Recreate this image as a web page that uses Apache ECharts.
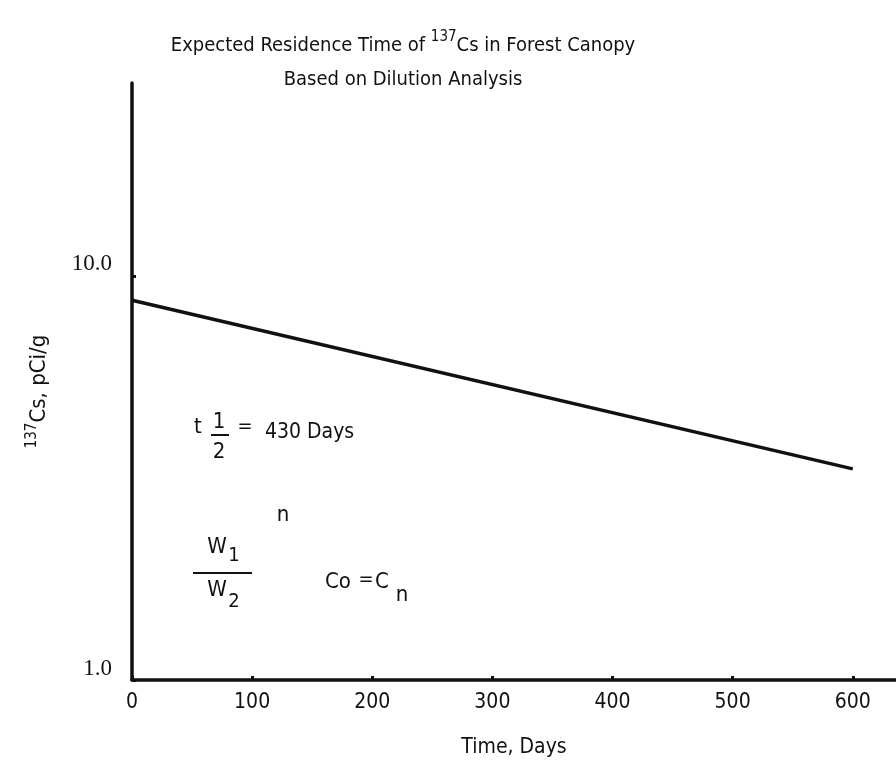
<!DOCTYPE html>
<html>
<head>
<meta charset="utf-8">
<script src="https://cdn.jsdelivr.net/npm/echarts@6/dist/echarts.min.js"></script>
<style>
html,body{margin:0;padding:0;background:#fff;}
#chart{width:896px;height:767px;}
</style>
</head>
<body>
<div id="chart"></div>
<script>
// Data
const days = [0, 600];
const cs137 = [8.7, 3.33];
const xTickValues = [0, 100, 200, 300, 400, 500, 600];
const yTickLabels = {1: '1.0', 10: '10.0'};

const SANS = '"DejaVu Sans Condensed", "Liberation Sans Narrow", sans-serif';
const SERIF = '"Liberation Serif", "DejaVu Serif", serif';

const chart = echarts.init(document.getElementById('chart'), null, {renderer: 'canvas'});

function txt(x, y, text, size, align) {
  return {type: 'text', x: x, y: y,
    style: {text: text, font: size + 'px ' + SANS, fill: '#111',
      textAlign: align || 'center', textVerticalAlign: 'middle'}};
}
function hline(x1, x2, y) {
  return {type: 'line', shape: {x1: x1, y1: y, x2: x2, y2: y},
    style: {stroke: '#111', lineWidth: 2}};
}

const option = {
  backgroundColor: '#fff',
  animation: false,
  title: {
    text: 'Expected Residence Time of {sup|137}Cs in Forest Canopy',
    subtext: 'Based on Dilution Analysis',
    left: 398, top: 25, textAlign: 'center', itemGap: 14,
    textStyle: {fontFamily: SANS, fontSize: 20, fontWeight: 'normal', color: '#111',
      rich: {sup: {fontFamily: SANS, fontSize: 15, color: '#111', padding: [0, 0, 16, 0]}}},
    subtextStyle: {fontFamily: SANS, fontSize: 20, color: '#111'}
  },
  grid: {left: 132, right: 0, top: 83, bottom: 87, containLabel: false, outerBoundsMode: 'none'},
  xAxis: {
    type: 'value', min: 0, max: 636, interval: 100,
    name: 'Time, Days', nameLocation: 'middle', nameGap: 57,
    nameTextStyle: {fontFamily: SANS, fontSize: 21, color: '#111'},
    axisLine: {lineStyle: {color: '#111', width: 3.5}},
    axisTick: {inside: true, length: 4, lineStyle: {color: '#111', width: 3}},
    splitLine: {show: false},
    axisLabel: {fontFamily: SANS, fontSize: 21, color: '#111', margin: 12, showMaxLabel: false,
      formatter: v => xTickValues.indexOf(v) >= 0 ? String(v) : ''}
  },
  yAxis: {
    type: 'log', logBase: 10, min: 1, max: 30,
    name: '{sup|137}Cs, pCi/g', nameLocation: 'middle', nameGap: 78, nameRotate: 90,
    nameTextStyle: {fontFamily: SANS, fontSize: 22, color: '#111', padding: [0, 20, 0, 0],
      rich: {sup: {fontFamily: SANS, fontSize: 15, color: '#111', padding: [0, 0, 14, 0]}}},
    axisLine: {lineStyle: {color: '#111', width: 3.5}},
    axisTick: {inside: true, length: 4, lineStyle: {color: '#111', width: 3}},
    splitLine: {show: false},
    axisLabel: {fontFamily: SERIF, fontSize: 23, color: '#111', margin: 20, verticalAlign: 'bottom',
      showMaxLabel: false,
      formatter: v => yTickLabels[Math.round(v * 1000) / 1000] || ''}
  },
  graphic: [
    txt(198, 427, 't', 22),
    txt(219, 422, '1', 22),
    hline(211, 229, 435),
    txt(219, 452, '2', 22),
    txt(245, 427, '=', 20),
    txt(265, 433, '430 Days', 21, 'left'),
    txt(283, 515, 'n', 22),
    txt(217, 547, 'W', 22),
    txt(234, 556, '1', 20),
    hline(193, 252, 573),
    txt(217, 590, 'W', 22),
    txt(234, 602, '2', 20),
    txt(325, 582, 'Co', 22, 'left'),
    txt(366, 580, '=', 20),
    txt(382, 582, 'C', 22),
    txt(402, 595, 'n', 22)
  ],
  series: [{
    type: 'line',
    data: days.map((d, i) => [d, cs137[i]]),
    symbol: 'none',
    lineStyle: {color: '#111', width: 3.5}
  }]
};
chart.setOption(option);
</script>
</body>
</html>
